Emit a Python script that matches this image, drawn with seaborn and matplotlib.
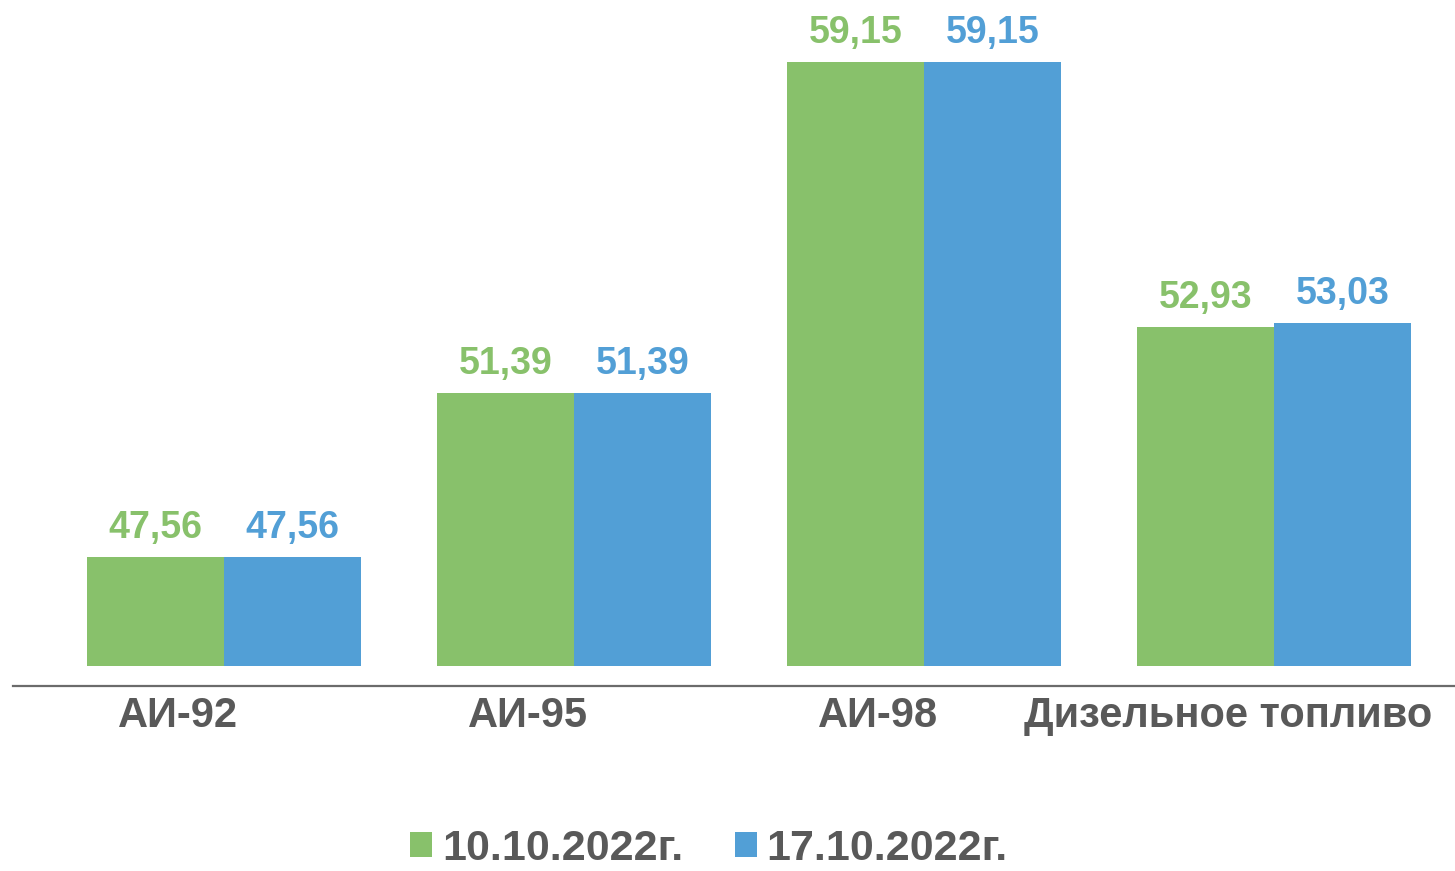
import matplotlib
matplotlib.use("Agg")
import matplotlib.pyplot as plt
import matplotlib.transforms as mtransforms
import seaborn as sns
import pandas as pd

categories = ["АИ-92", "АИ-95", "АИ-98", "Дизельное топливо"]
series_names = ["10.10.2022г.", "17.10.2022г."]
values_1010 = [47.56, 51.39, 59.15, 52.93]
values_1710 = [47.56, 51.39, 59.15, 53.03]
colors = ["#88C16B", "#529FD6"]

df = pd.DataFrame({
    "cat": categories * 2,
    "series": [series_names[0]] * 4 + [series_names[1]] * 4,
    "value": values_1010 + values_1710,
})

sns.set_theme(style="white")
plt.rcParams["font.family"] = ["Liberation Sans", "DejaVu Sans"]

W, H = 1455, 871
fig = plt.figure(figsize=(W / 100, H / 100), dpi=100)
ax = fig.add_axes([13 / W, (H - 666) / H, (W - 13) / W, 666 / H])

sns.barplot(data=df, x="cat", y="value", hue="series", palette=colors,
            width=274 / 350, linewidth=0, saturation=1, ax=ax, legend=True)

ax.set_ylim(45, 45 + 666 / 42.69)
ax.set_xlim((13 - 224) / 350, (1455 - 224) / 350)

for cont, col in zip(ax.containers, colors):
    ax.bar_label(cont, labels=[f"{v:.2f}".replace(".", ",") for v in cont.datavalues],
                 padding=8, color=col, fontsize=27, fontweight="bold")

for s in ["top", "right", "left"]:
    ax.spines[s].set_visible(False)
ax.spines["bottom"].set_position(("outward", 14.4))
ax.spines["bottom"].set_color("#6b6b6b")
ax.spines["bottom"].set_linewidth(1.6)

ax.set_yticks([])
ax.set_xlabel("")
ax.set_ylabel("")
ax.tick_params(axis="x", length=0, pad=7, labelsize=30, labelcolor="#595959")
offset = mtransforms.ScaledTranslation(-46 / 100, 0, fig.dpi_scale_trans)
for lab in ax.get_xticklabels():
    lab.set_fontweight("bold")
    lab.set_transform(lab.get_transform() + offset)

handles, labels = ax.get_legend_handles_labels()
ax.get_legend().remove()
leg = fig.legend(handles, labels, loc="lower center", bbox_to_anchor=(709 / W, 0.0),
                 ncol=2, frameon=False, prop={"size": 31, "weight": "bold"},
                 handlelength=0.52, handleheight=0.52,
                 handletextpad=0.22, columnspacing=1.2, borderaxespad=0.0,
                 borderpad=0.05)
for t in leg.get_texts():
    t.set_color("#595959")

fig.savefig("out.png", dpi=100)
